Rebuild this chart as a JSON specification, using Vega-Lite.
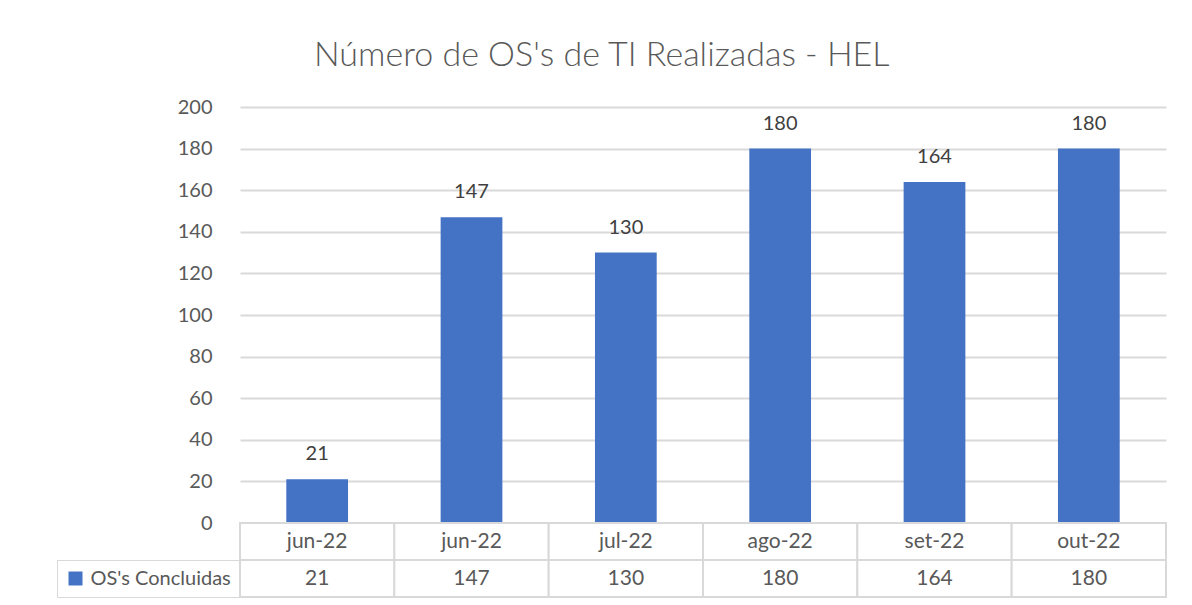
{
  "$schema": "https://vega.github.io/schema/vega-lite/v6.json",
  "background": "white",
  "padding": {"left": 56, "top": 39, "right": 26, "bottom": 0},
  "title": {
    "text": "Número de OS's de TI Realizadas - HEL",
    "font": "Lato",
    "fontSize": 34,
    "fontWeight": 300,
    "color": "#595959",
    "anchor": "middle",
    "frame": "bounds",
    "dx": -10,
    "offset": 24
  },
  "datasets": {
    "os": [
      {"idx": 1, "mes": "jun-22", "os": 21, "serie": "OS's Concluidas"},
      {"idx": 2, "mes": "jun-22", "os": 147, "serie": "OS's Concluidas"},
      {"idx": 3, "mes": "jul-22", "os": 130, "serie": "OS's Concluidas"},
      {"idx": 4, "mes": "ago-22", "os": 180, "serie": "OS's Concluidas"},
      {"idx": 5, "mes": "set-22", "os": 164, "serie": "OS's Concluidas"},
      {"idx": 6, "mes": "out-22", "os": 180, "serie": "OS's Concluidas"}
    ]
  },
  "spacing": 0,
  "bounds": "flush",
  "resolve": {"scale": {"x": "independent", "color": "independent"}, "legend": {"color": "independent"}},
  "vconcat": [
    {
      "width": 926,
      "height": 416,
      "data": {"name": "os"},
      "encoding": {
        "x": {"field": "idx", "type": "ordinal", "scale": {"paddingInner": 0.6, "paddingOuter": 0.3}, "axis": null},
        "y": {
          "field": "os",
          "type": "quantitative",
          "scale": {"domain": [0, 200], "nice": false},
          "axis": {
            "values": [0, 20, 40, 60, 80, 100, 120, 140, 160, 180, 200],
            "title": null,
            "domain": false,
            "ticks": false,
            "labelPadding": 28,
            "labelFont": "Lato",
            "labelFontSize": 20,
            "labelColor": "#595959",
            "gridColor": "#d9d9d9",
            "gridWidth": 2,
            "gridOpacity": 1
          }
        }
      },
      "layer": [
        {"mark": {"type": "bar", "color": "#4472C4"}},
        {
          "mark": {"type": "text", "font": "Lato", "fontSize": 20, "color": "#404040", "baseline": "alphabetic", "dy": -19},
          "encoding": {"text": {"field": "os", "type": "quantitative"}}
        }
      ]
    },
    {
      "width": 926,
      "height": 37,
      "data": {"name": "os"},
      "encoding": {
        "x": {"field": "idx", "type": "ordinal", "scale": {"paddingInner": 0, "paddingOuter": 0}, "axis": null}
      },
      "layer": [
        {"mark": {"type": "rect", "fill": "white", "stroke": "#d9d9d9", "strokeWidth": 2}},
        {
          "mark": {"type": "text", "font": "Lato", "fontSize": 21, "color": "#595959", "baseline": "middle"},
          "encoding": {"text": {"field": "mes", "type": "nominal"}}
        }
      ]
    },
    {
      "width": 926,
      "height": 37,
      "data": {"name": "os"},
      "encoding": {
        "x": {"field": "idx", "type": "ordinal", "scale": {"paddingInner": 0, "paddingOuter": 0}, "axis": null}
      },
      "layer": [
        {"mark": {"type": "rect", "fill": "white", "stroke": "#d9d9d9", "strokeWidth": 2}},
        {
          "mark": {"type": "text", "font": "Lato", "fontSize": 21, "color": "#595959", "baseline": "middle"},
          "encoding": {"text": {"field": "os", "type": "quantitative"}}
        },
        {
          "mark": {"type": "square", "opacity": 0, "size": 0},
          "encoding": {
            "color": {
              "field": "serie",
              "type": "nominal",
              "scale": {"range": ["#4472C4"]},
              "legend": {
                "orient": "left",
                "offset": 0,
                "title": null,
                "padding": 8.5,
                "symbolType": "square",
                "symbolSize": 196,
                "symbolOpacity": 1,
                "symbolStrokeWidth": 0,
                "symbolOffset": 0,
                "labelOffset": 5,
                "labelFont": "Lato",
                "labelFontSize": 20,
                "labelColor": "#595959"
              }
            }
          }
        }
      ]
    }
  ],
  "config": {
    "view": {"stroke": null},
    "font": "Lato",
    "legend": {"strokeColor": "#d9d9d9"}
  }
}
